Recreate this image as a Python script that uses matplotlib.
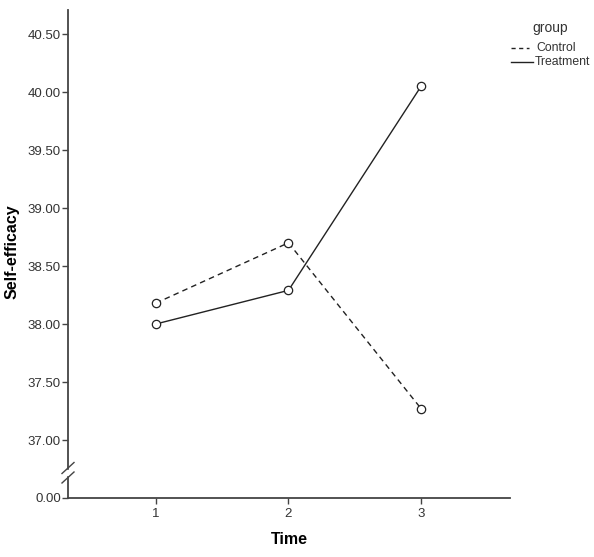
import matplotlib.pyplot as plt
from matplotlib.lines import Line2D

plt.rcParams['font.family'] = ['Liberation Sans', 'DejaVu Sans']

# data
times = [1, 2, 3]
control = [38.18, 38.70, 37.27]
treatment = [38.00, 38.29, 40.05]

# y axis is broken: 0.00 drawn at 36.5, then 37.00 .. 40.50
ytick_pos = [36.5, 37.0, 37.5, 38.0, 38.5, 39.0, 39.5, 40.0, 40.5]
ytick_labels = ["0.00", "37.00", "37.50", "38.00", "38.50", "39.00", "39.50", "40.00", "40.50"]

fig = plt.figure(figsize=(5.94, 5.57), dpi=100)
ax = fig.add_axes([68 / 594, 59 / 557, 442 / 594, 488 / 557])

col = "#222222"
ax.plot(times, control, linestyle=(0, (4, 3)), color=col, linewidth=1.0,
        marker="o", markersize=6, markerfacecolor="white", markeredgecolor=col,
        markeredgewidth=0.9)
ax.plot(times, treatment, linestyle="-", color=col, linewidth=1.0,
        marker="o", markersize=6, markerfacecolor="white", markeredgecolor=col,
        markeredgewidth=0.9)

x0, x1 = 0.338, 3.67
y0, y1 = 36.5, 40.707
ax.set_xlim(x0, x1)
ax.set_ylim(y0, y1)
ax.set_xticks(times)
ax.set_xticklabels([str(t) for t in times])
ax.set_yticks(ytick_pos)
ax.set_yticklabels(ytick_labels)

for s in ["top", "right"]:
    ax.spines[s].set_visible(False)
for s in ["left", "bottom"]:
    ax.spines[s].set_color("#444444")
    ax.spines[s].set_linewidth(1.3)

ax.tick_params(axis="both", direction="out", length=4, width=1.0, color="#444444",
               labelsize=9.5, labelcolor="#333333", pad=1)
ax.tick_params(axis="x", pad=3)

ax.set_xlabel("Time", fontsize=11.5, fontweight="bold")
ax.set_ylabel("Self-efficacy", fontsize=11.5, fontweight="bold")
ax.xaxis.set_label_coords(0.5, -0.07)
ax.yaxis.set_label_coords(-0.11, 0.504)

# axis break marks (sizes in pixels converted to data units)
dx = (x1 - x0) / 442
dy = (y1 - y0) / 488
ax.add_line(Line2D([x0, x0], [y0 + 24 * dy, y0 + 27 * dy], color="white",
                   linewidth=2.5, clip_on=False, zorder=5))
for yc in [y0 + 30 * dy, y0 + 20.5 * dy]:
    ax.add_line(Line2D([x0 - 6 * dx, x0 + 6 * dx], [yc - 5.5 * dy, yc + 5.5 * dy],
                       color="#444444", linewidth=1.0, clip_on=False, zorder=6))

# legend
fig.text(550 / 594, 1 - 28 / 557, "group", fontsize=10, color="#333333",
         ha="center", va="center")
fig.add_artist(Line2D([511 / 594, 529 / 594], [1 - 48 / 557] * 2,
                      linestyle=(0, (3, 2.5)), color=col, linewidth=1.0))
fig.add_artist(Line2D([511 / 594, 533 / 594], [1 - 62 / 557] * 2,
                      linestyle="-", color=col, linewidth=1.0))
fig.text(536 / 594, 1 - 48 / 557, "Control", fontsize=8.8, color="#333333",
         ha="left", va="center")
fig.text(535 / 594, 1 - 62 / 557, "Treatment", fontsize=8.8, color="#333333",
         ha="left", va="center")

fig.savefig("out.png", dpi=100)
